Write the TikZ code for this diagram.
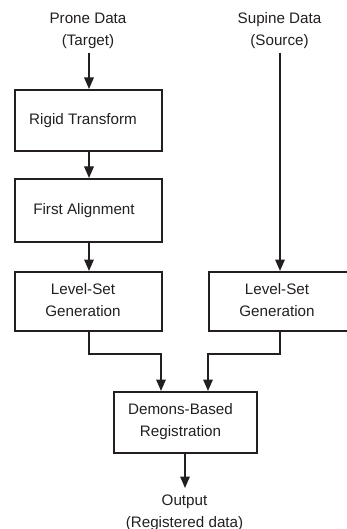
\documentclass[tikz,border=0pt]{standalone}
\usepackage{fontspec}
\setmainfont{Liberation Sans}
\usetikzlibrary{arrows.meta}
\definecolor{ink}{HTML}{231F20}
\begin{document}
\begin{tikzpicture}[x=1pt,y=-1pt,
  box/.style={draw=ink,line width=1.8pt,inner sep=0pt,anchor=north west},
  txt/.style={font=\fontsize{15.2}{22}\selectfont,text=ink,align=center,inner sep=0pt},
  flow/.style={draw=ink,line width=1.6pt,-{Triangle[length=11.5pt,width=9.5pt]}}]
\useasboundingbox (0,0) rectangle (346,529);
% boxes
\node[box,minimum width=147pt,minimum height=61pt] (rigid) at (14,89) {};
\node[box,minimum width=147pt,minimum height=63pt] (first) at (14,178) {};
\node[box,minimum width=147pt,minimum height=59pt] (lsl) at (14,271) {};
\node[box,minimum width=139pt,minimum height=59pt] (lsr) at (208,271) {};
\node[box,minimum width=143pt,minimum height=61pt] (demons) at (113,391) {};
% box texts
\node[txt] (trigid) at (83,120.5) {Rigid Transform};
\node[txt] (tfirst) at (84,210.5) {First Alignment};
\node[txt] (tlsl) at (83,300.5) {Level-Set\\Generation};
\node[txt] (tlsr) at (277,300.5) {Level-Set\\Generation};
\node[txt] (tdemons) at (180.5,421.5) {Demons-Based\\Registration};
% inputs / output
\node[txt] (prone) at (88,31) {Prone Data\\(Target)};
\node[txt] (supine) at (279.5,31) {Supine Data\\(Source)};
\node[txt] (out) at (184.5,512.5) {Output\\(Registered data)};
% connector reference points
\coordinate (pin) at (89,53);
\coordinate (sin) at (280,53);
\coordinate (jl) at (89,354);
\coordinate (jr) at (280,354);
\coordinate (dl) at (161,354);
\coordinate (dr) at (208,354);
\coordinate (oc) at (185,488);
% connectors
\draw[flow] (pin) -- (pin |- rigid.north);
\draw[flow] (pin |- rigid.south) -- (pin |- first.north);
\draw[flow] (pin |- first.south) -- (pin |- lsl.north);
\draw[flow] (sin) -- (sin |- lsr.north);
\draw[flow] (pin |- lsl.south) -- (jl) -- (dl) -- (dl |- demons.north);
\draw[flow] (sin |- lsr.south) -- (jr) -- (dr) -- (dr |- demons.north);
\draw[flow] (oc |- demons.south) -- (oc);
\end{tikzpicture}
\end{document}
